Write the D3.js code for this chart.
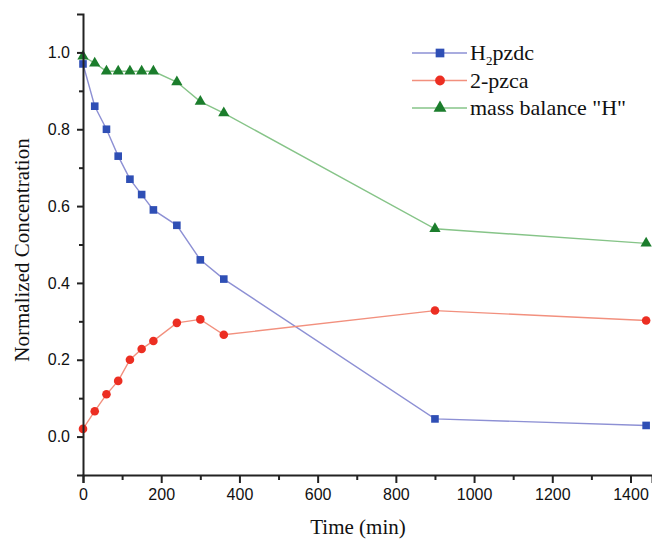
<!DOCTYPE html>
<html>
<head>
<meta charset="utf-8">
<script src="https://cdn.jsdelivr.net/npm/d3@7"></script>
<style>
  body { margin: 0; background: #fff; }
  .tick text { font-family: "Liberation Sans", Arial, sans-serif; font-size: 16px; fill: #111; }
  .ttl { font-family: "Liberation Serif", "Times New Roman", serif; fill: #111; }
</style>
</head>
<body>
<div id="chart"></div>
<script>
// data
var times = [0, 30, 60, 90, 120, 150, 180, 240, 300, 360, 900, 1440]
var h2pzdc = [0.97, 0.86, 0.80, 0.73, 0.67, 0.63, 0.59, 0.55, 0.46, 0.41, 0.046, 0.029]
var pzca = [0.02, 0.066, 0.11, 0.145, 0.20, 0.228, 0.249, 0.296, 0.305, 0.265, 0.328, 0.302]
var massH = [0.99, 0.972, 0.951, 0.951, 0.951, 0.951, 0.951, 0.923, 0.872, 0.842, 0.541, 0.503]
var xTicks = [0, 200, 400, 600, 800, 1000, 1200, 1400]
var yTicks = [0.0, 0.2, 0.4, 0.6, 0.8, 1.0]

var svgWdth = 652
var svgHt = 540

var svg = d3.select('#chart')
  .append('svg')
  .attr('width', svgWdth)
  .attr('height', svgHt)

var x = d3.scaleLinear().domain([0, 1455]).range([83, 652])
var y = d3.scaleLinear().domain([-0.1, 1.1]).range([475, 14])

var series = [
  { name: 'h2pzdc', vals: h2pzdc, line: '#8d90d4', fill: '#2f4fb5', shape: d3.symbolSquare, size: 58 },
  { name: 'pzca', vals: pzca, line: '#f2907e', fill: '#ec2e22', shape: d3.symbolCircle, size: 58 },
  { name: 'massH', vals: massH, line: '#86c488', fill: '#1b7d2c', shape: d3.symbolTriangle, size: 55 }
]

var line = d3.line().x(d => x(d[0])).y(d => y(d[1]))

series.forEach(function (s) {
  var pts = times.map((t, i) => [t, s.vals[i]])
  svg.append('path')
    .datum(pts)
    .attr('d', line)
    .attr('fill', 'none')
    .attr('stroke', s.line)
    .attr('stroke-width', 1.4)
  svg.selectAll('.m-' + s.name)
    .data(pts)
    .enter().append('path')
    .attr('class', 'm-' + s.name)
    .attr('d', d3.symbol().type(s.shape).size(s.size))
    .attr('transform', d => `translate(${x(d[0])},${y(d[1])})`)
    .attr('fill', s.fill)
})

// axes
var xAxis = svg.append('g')
  .attr('transform', 'translate(0,475)')
  .call(d3.axisBottom(x).tickValues(xTicks).tickSize(8).tickPadding(6).tickFormat(d3.format('d')))
var xMinor = svg.append('g')
  .attr('transform', 'translate(0,475)')
  .call(d3.axisBottom(x).tickValues(d3.range(100, 1500, 200)).tickSize(5).tickFormat(''))

var yAxis = svg.append('g')
  .attr('transform', 'translate(83,0)')
  .call(d3.axisLeft(y).tickValues(yTicks).tickSize(6).tickPadding(7).tickFormat(d3.format('.1f')))
var yMinor = svg.append('g')
  .attr('transform', 'translate(83,0)')
  .call(d3.axisLeft(y).tickValues([0.1, 0.3, 0.5, 0.7, 0.9]).tickSize(4).tickFormat(''))

svg.selectAll('.domain').attr('stroke', '#222').attr('stroke-width', 2)
svg.selectAll('.tick line').attr('stroke', '#222').attr('stroke-width', 2)
xMinor.select('.domain').remove()
yMinor.select('.domain').remove()

// titles
svg.append('text').attr('class', 'ttl')
  .attr('x', 358).attr('y', 534)
  .attr('text-anchor', 'middle')
  .style('font-size', '21px')
  .text('Time (min)')

svg.append('text').attr('class', 'ttl')
  .attr('transform', 'translate(29,250)rotate(-90)')
  .attr('text-anchor', 'middle')
  .style('font-size', '21px')
  .text('Normalized Concentration')

// legend
var legend = svg.append('g').attr('transform', 'translate(412,53)')
series.forEach(function (s, i) {
  var g = legend.append('g').attr('transform', `translate(0,${i * 27.5})`)
  g.append('line').attr('x1', 0).attr('x2', 55).attr('y1', 0).attr('y2', 0)
    .attr('stroke', s.line).attr('stroke-width', 1.4)
  g.append('path').attr('d', d3.symbol().type(s.shape).size(s.size * 1.3))
    .attr('transform', 'translate(28,0)').attr('fill', s.fill)
  var t = g.append('text').attr('class', 'ttl').attr('x', 58).attr('y', 7)
    .style('font-size', '22px')
  if (s.name == 'h2pzdc') {
    t.append('tspan').text('H')
    t.append('tspan').attr('dy', 5).style('font-size', '13px').text('2')
    t.append('tspan').attr('dy', -5).text('pzdc')
  } else if (s.name == 'pzca') {
    t.text('2-pzca')
  } else {
    t.text('mass balance "H"')
  }
})
</script>
</body>
</html>
